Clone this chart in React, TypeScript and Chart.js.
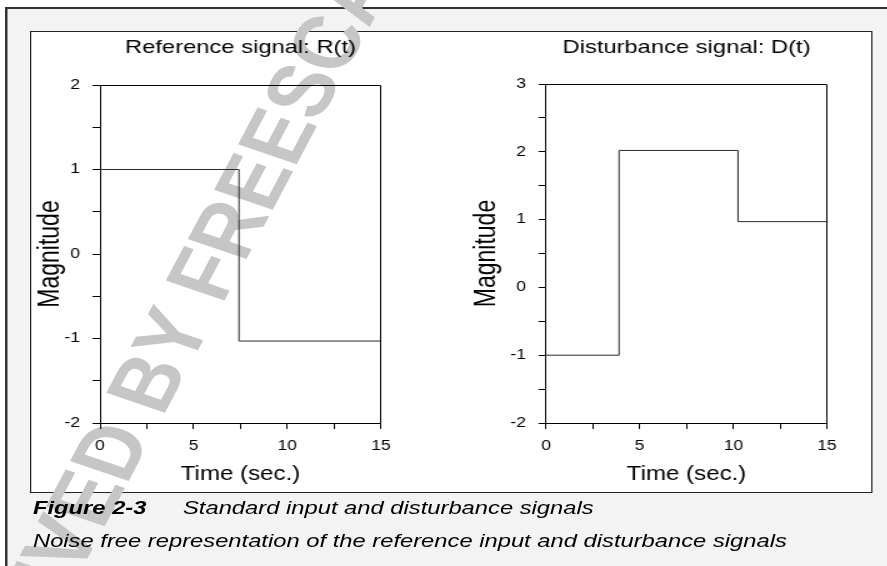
import React, { useEffect, useLayoutEffect, useRef } from 'react';
import { Chart, registerables } from 'chart.js';

Chart.register(...registerables);

// ---- data ----
const refTimes = [0, 7.42, 15];
const refValues = [1, -1.03, -1.03];
const distTimes = [0, 3.9, 10.25, 15];
const distValues = [-1, 2.02, 0.97, 0.97];

const timeTickLabels = [0, 5, 10, 15];
const refYTickLabels = [-2, -1, 0, 1, 2];
const distYTickLabels = [-2, -1, 0, 1, 2, 3];

const refTitle = 'Reference signal: R(t)';
const distTitle = 'Disturbance signal: D(t)';
const xAxisTitle = 'Time (sec.)';
const yAxisTitle = 'Magnitude';

const captionLabel = 'Figure 2-3';
const captionTitle = 'Standard input and disturbance signals';
const captionText = 'Noise free representation of the reference input and disturbance signals';
const watermarkBefore = 'ARCHIVED ';
const watermarkAfter = 'BY FREESCALE SEMICONDUCTOR, INC.';

// ---- styling ----
const FONT = "'Liberation Sans', Arial, Helvetica, sans-serif";
const SX = 1.25;
const CANVAS_W = 336;
const CANVAS_H = 459;

const framePlugin = {
  id: 'frame',
  afterDraw(chart: any) {
    const { ctx, chartArea: a } = chart;
    const al = (p: number) => Math.round(p + 0.5) - 0.5;
    ctx.save();
    ctx.strokeStyle = '#000';
    ctx.lineWidth = 1;
    ctx.beginPath();
    ctx.moveTo(al(a.left), al(a.top));
    ctx.lineTo(al(a.right), al(a.top));
    ctx.lineTo(al(a.right), al(a.bottom));
    ctx.stroke();
    ctx.restore();
  },
};

type Geo = { pr: number; yw: number; yTitlePad: number; titleBottom: number };

function SignalChart(props: {
  times: number[];
  values: number[];
  yMin: number;
  yMax: number;
  yLabels: number[];
  title: string;
  geo: Geo;
  left: number;
  top: number;
}) {
  const ref = useRef<HTMLCanvasElement | null>(null);
  useEffect(() => {
    if (!ref.current) return;
    const { geo } = props;
    const chart = new Chart(ref.current, {
      type: 'line',
      data: {
        datasets: [
          {
            data: props.times.map((t, i) => ({ x: t, y: props.values[i] })),
            stepped: true,
            borderColor: '#2a2a2a',
            borderWidth: 1,
            pointRadius: 0,
            fill: false,
          },
        ],
      },
      options: {
        responsive: false,
        animation: false,
        devicePixelRatio: 1,
        layout: { padding: { left: 0, right: geo.pr, top: 0, bottom: 0 } },
        plugins: {
          legend: { display: false },
          tooltip: { enabled: false },
          title: {
            display: true,
            text: props.title,
            color: '#000',
            fullSize: false,
            font: { family: FONT, size: 19, weight: 'normal' },
            padding: { top: 4.6, bottom: geo.titleBottom },
          },
        },
        scales: {
          x: {
            type: 'linear',
            min: 0,
            max: 15,
            afterFit: (s: any) => {
              s.height = 68;
            },
            ticks: {
              stepSize: 2.5,
              autoSkip: false,
              maxRotation: 0,
              color: '#000',
              padding: 9,
              font: { family: FONT, size: 14 },
              callback: (v: any) => (timeTickLabels.includes(Number(v)) ? String(v) : ''),
            },
            grid: { drawOnChartArea: false, drawTicks: true, tickLength: 6, color: '#000' },
            border: { display: true, color: '#000', width: 1 },
            title: {
              display: true,
              text: xAxisTitle,
              color: '#000',
              font: { family: FONT, size: 19.3 },
              padding: { top: 0, bottom: 5 },
            },
          },
          y: {
            type: 'linear',
            min: props.yMin,
            max: props.yMax,
            afterFit: (s: any) => {
              s.width = geo.yw;
            },
            ticks: {
              stepSize: 0.5,
              autoSkip: false,
              color: '#000',
              padding: 10,
              font: { family: FONT, size: 14 },
              callback: (v: any) => (props.yLabels.includes(Number(v)) ? String(v) : ''),
            },
            grid: { drawOnChartArea: false, drawTicks: true, tickLength: 6, color: '#000' },
            border: { display: true, color: '#000', width: 1 },
            title: {
              display: true,
              text: yAxisTitle,
              color: '#000',
              font: { family: FONT, size: 23 },
              padding: { top: geo.yTitlePad, bottom: 0 },
            },
          },
        },
      },
      plugins: [framePlugin],
    } as any);
    return () => chart.destroy();
  }, []);
  return (
    <canvas
      ref={ref}
      width={CANVAS_W}
      height={CANVAS_H}
      style={{
        position: 'absolute',
        left: props.left,
        top: props.top,
        width: CANVAS_W + 'px',
        height: CANVAS_H + 'px',
        display: 'block',
      }}
    />
  );
}

export default function App() {
  useLayoutEffect(() => {
    document.body.style.margin = '0';
  }, []);
  const wmStyle: React.CSSProperties = {
    position: 'absolute',
    bottom: 0,
    font: `bold 74px ${FONT}`,
    lineHeight: 1,
    color: '#c6c6c6',
    whiteSpace: 'pre',
  };
  const capStyle: React.CSSProperties = {
    position: 'absolute',
    font: `italic 19px ${FONT}`,
    lineHeight: '22px',
    whiteSpace: 'nowrap',
    color: '#000',
  };
  return (
    <div style={{ position: 'relative', width: 887, height: 566, overflow: 'hidden', background: '#fff' }}>
      <div
        style={{
          position: 'absolute',
          left: 0,
          top: 0,
          width: 887 / SX,
          height: 566,
          transform: `scaleX(${SX})`,
          transformOrigin: '0 0',
        }}
      >
        {/* grey panel */}
        <div
          style={{
            position: 'absolute',
            left: 3.5,
            top: 7,
            right: 0,
            bottom: 0,
            background: '#f3f3f3',
            borderTop: '2px solid #333',
            borderLeft: '2px solid #333',
          }}
        />
        {/* white figure box */}
        <div
          style={{
            position: 'absolute',
            left: 24,
            top: 31,
            width: 697.6 - 24 - 2,
            height: 460,
            background: '#fff',
            border: '1px solid #222',
          }}
        />
        {/* watermark */}
        <div
          style={{
            position: 'absolute',
            left: 141,
            top: 422,
            width: 0,
            height: 0,
            transform: 'rotate(-67deg)',
            transformOrigin: '0 0',
          }}
        >
          <span style={{ ...wmStyle, right: 0 }}>{watermarkBefore}</span>
          <span style={{ ...wmStyle, left: 0 }}>{watermarkAfter}</span>
        </div>
        <SignalChart
          times={refTimes}
          values={refValues}
          yMin={-2}
          yMax={2}
          yLabels={refYTickLabels}
          title={refTitle}
          geo={{ pr: 56.2, yw: 55, yTitlePad: 1.4, titleBottom: 25.6 }}
          left={25}
          top={32}
        />
        <SignalChart
          times={distTimes}
          values={distValues}
          yMin={-2}
          yMax={3}
          yLabels={distYTickLabels}
          title={distTitle}
          geo={{ pr: 35.4, yw: 75.8, yTitlePad: 15, titleBottom: 24.6 }}
          left={361}
          top={32}
        />
        <div style={{ ...capStyle, left: 26.4, top: 497, fontWeight: 'bold' }}>{captionLabel}</div>
        <div style={{ ...capStyle, left: 146.4, top: 497 }}>{captionTitle}</div>
        <div style={{ ...capStyle, left: 26.4, top: 530 }}>{captionText}</div>
      </div>
    </div>
  );
}
